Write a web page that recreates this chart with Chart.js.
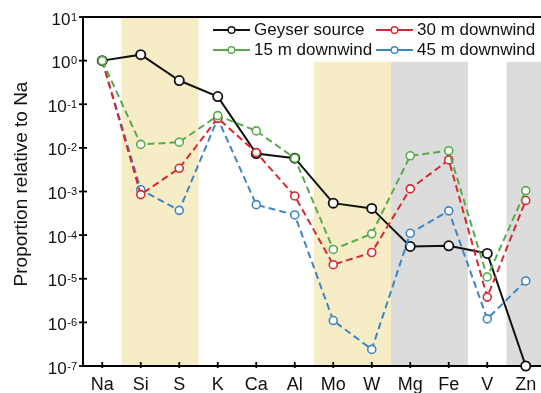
<!DOCTYPE html>
<html>
<head>
<meta charset="utf-8">
<script src="https://cdn.jsdelivr.net/npm/chart.js@4.4.1/dist/chart.umd.min.js"></script>
<style>
  html, body { margin: 0; padding: 0; background: #fff; overflow: hidden; width: 541px; height: 393px; }
  canvas { display: block; }
</style>
</head>
<body>
<canvas id="c" width="545" height="393"></canvas>
<script>
// ---- data ----
const categories = ['Na', 'Si', 'S', 'K', 'Ca', 'Al', 'Mo', 'W', 'Mg', 'Fe', 'V', 'Zn'];
const geyserSource = [1.0, 1.37, 0.35, 0.15, 0.0074, 0.0058, 5.4e-4, 4.1e-4, 5.5e-5, 5.7e-5, 3.8e-5, 1e-7];
const downwind15m = [1.0, 0.012, 0.0135, 0.055, 0.0245, 0.0058, 4.7e-5, 1.07e-4, 0.0066, 0.0086, 1.1e-5, 1.05e-3];
const downwind30m = [1.0, 8.5e-4, 0.0034, 0.048, 0.0078, 7.9e-4, 2.1e-5, 4.0e-5, 1.15e-3, 0.0053, 3.8e-6, 6.2e-4];
const downwind45m = [1.0, 1.1e-3, 3.7e-4, 0.047, 5.0e-4, 2.9e-4, 1.1e-6, 2.4e-7, 1.1e-4, 3.6e-4, 1.2e-6, 8.9e-6];
const yExponents = [1, 0, -1, -2, -3, -4, -5, -6, -7];
const seriesNames = ['Geyser source', '30 m downwind', '15 m downwind', '45 m downwind'];
const yTitle = 'Proportion relative to Na';
// shaded element groups (first and last category of each band)
const shadedGroups = [
  { from: 'Si', to: 'S', kind: 'yellow' },
  { from: 'Mo', to: 'W', kind: 'yellow' },
  { from: 'Mg', to: 'Fe', kind: 'gray' },
  { from: 'Zn', to: 'Zn', kind: 'gray' }
];

// ---- styles ----
const FONT = '"Liberation Sans", Arial, Helvetica, sans-serif';
const COLORS = { black: '#111111', red: '#d7282f', green: '#58aa4b', blue: '#3e86c1' };
const BAND = { yellow: '#f6ecc6', gray: '#dcdcdc' };
const LEGEND_BOTTOM = 61.5;
const LEGEND_LEFT = 205;

function ds(label, data, color, dashed, radius, bw) {
  return {
    label, data,
    borderColor: color,
    backgroundColor: '#ffffff',
    pointBackgroundColor: '#ffffff',
    pointBorderColor: color,
    pointRadius: radius,
    pointBorderWidth: bw,
    pointHoverRadius: radius,
    borderWidth: 2,
    borderDash: dashed ? [7, 4] : [],
    tension: 0,
    clip: false,
    fill: false
  };
}

const bgPlugin = {
  id: 'bands',
  beforeDatasetsDraw(chart) {
    const { ctx, chartArea, scales } = chart;
    const x = scales.x, y = scales.y;
    const step = x.getPixelForTick(1) - x.getPixelForTick(0);
    ctx.save();
    shadedGroups.forEach(g => {
      const i0 = categories.indexOf(g.from), i1 = categories.indexOf(g.to);
      const left = x.getPixelForTick(i0) - step / 2;
      const right = x.getPixelForTick(i1) + step / 2;
      const top = right <= LEGEND_LEFT ? chartArea.top : LEGEND_BOTTOM;
      ctx.fillStyle = BAND[g.kind];
      ctx.fillRect(left, top, right - left, chartArea.bottom - top);
    });
    // frame
    ctx.strokeStyle = '#000';
    ctx.lineWidth = 2;
    ctx.beginPath();
    ctx.moveTo(chartArea.left, chartArea.top);
    ctx.lineTo(chartArea.right, chartArea.top);
    ctx.lineTo(chartArea.right, chartArea.bottom);
    ctx.lineTo(chartArea.left, chartArea.bottom);
    ctx.closePath();
    ctx.stroke();
    // x ticks (crossing the axis)
    ctx.lineWidth = 1.8;
    categories.forEach((c, i) => {
      const px = x.getPixelForTick(i);
      ctx.beginPath();
      ctx.moveTo(px, chartArea.bottom + 2);
      ctx.lineTo(px, chartArea.bottom - 4);
      ctx.stroke();
    });
    // y ticks
    yExponents.forEach(e => {
      const py = y.getPixelForValue(Math.pow(10, e));
      ctx.beginPath();
      ctx.moveTo(chartArea.left - 4, py);
      ctx.lineTo(chartArea.left + 4, py);
      ctx.stroke();
    });
    ctx.restore();
  },
  afterDraw(chart) {
    const { ctx, chartArea, scales } = chart;
    const y = scales.y;
    ctx.save();
    // y tick labels with superscripts
    ctx.fillStyle = '#111';
    ctx.textBaseline = 'alphabetic';
    yExponents.forEach(e => {
      const py = y.getPixelForValue(Math.pow(10, e));
      const sup = e < 0 ? '-' + Math.abs(e) : String(e);
      ctx.font = '11px ' + FONT;
      const ws = ctx.measureText(sup).width;
      const supRight = chartArea.left - 6;
      ctx.textAlign = 'left';
      ctx.fillText(sup, supRight - ws, py + 3.5);
      ctx.font = '17px ' + FONT;
      ctx.textAlign = 'right';
      ctx.fillText('10', supRight - ws - 0.5, py + 7.5);
    });
    // y title
    ctx.save();
    ctx.translate(22, 184);
    ctx.rotate(-Math.PI / 2);
    ctx.font = '19px ' + FONT;
    ctx.textAlign = 'center';
    ctx.textBaseline = 'middle';
    ctx.fillText(yTitle, 0, 0);
    ctx.restore();
    // legend
    ctx.fillStyle = '#fff';
    ctx.fillRect(LEGEND_LEFT, chartArea.top + 1.5, chart.width - LEGEND_LEFT, LEGEND_BOTTOM - chartArea.top - 1.5);
    const items = [
      { name: seriesNames[0], color: COLORS.black, x: 213, y: 30 },
      { name: seriesNames[1], color: COLORS.red, x: 376, y: 30 },
      { name: seriesNames[2], color: COLORS.green, x: 213, y: 50 },
      { name: seriesNames[3], color: COLORS.blue, x: 376, y: 50 }
    ];
    items.forEach(it => {
      ctx.strokeStyle = it.color;
      ctx.lineWidth = 2;
      ctx.setLineDash([]);
      ctx.beginPath();
      ctx.moveTo(it.x, it.y);
      ctx.lineTo(it.x + 37, it.y);
      ctx.stroke();
      ctx.beginPath();
      ctx.arc(it.x + 18.5, it.y, 3.3, 0, Math.PI * 2);
      ctx.fillStyle = '#fff';
      ctx.fill();
      ctx.lineWidth = 1.4;
      ctx.stroke();
      ctx.fillStyle = '#111';
      ctx.font = '17px ' + FONT;
      ctx.textAlign = 'left';
      ctx.textBaseline = 'middle';
      ctx.fillText(it.name, it.x + 41, it.y + 0.5);
    });
    ctx.restore();
  }
};

new Chart(document.getElementById('c'), {
  type: 'line',
  data: {
    labels: categories,
    datasets: [
      ds(seriesNames[2], downwind15m, COLORS.green, true, 4, 1.6),
      ds(seriesNames[1], downwind30m, COLORS.red, true, 4, 1.6),
      ds(seriesNames[3], downwind45m, COLORS.blue, true, 4, 1.6),
      ds(seriesNames[0], geyserSource, COLORS.black, false, 4.6, 1.8)
    ]
  },
  options: {
    responsive: false,
    animation: false,
    events: [],
    layout: { autoPadding: false, padding: { top: 17, left: 0, right: 0, bottom: 0 } },
    plugins: { legend: { display: false }, tooltip: { enabled: false } },
    scales: {
      x: {
        type: 'category',
        offset: true,
        grid: { display: false, drawTicks: false },
        border: { display: false },
        ticks: { color: '#111', font: { family: FONT, size: 18 }, padding: 8, maxRotation: 0, autoSkip: false },
        afterFit(s) { s.height = 27; }
      },
      y: {
        type: 'logarithmic',
        min: 1e-7,
        max: 10,
        grid: { display: false, drawTicks: false },
        border: { display: false },
        ticks: { display: false },
        afterFit(s) { s.width = 83; }
      }
    }
  },
  plugins: [bgPlugin]
});
</script>
</body>
</html>
